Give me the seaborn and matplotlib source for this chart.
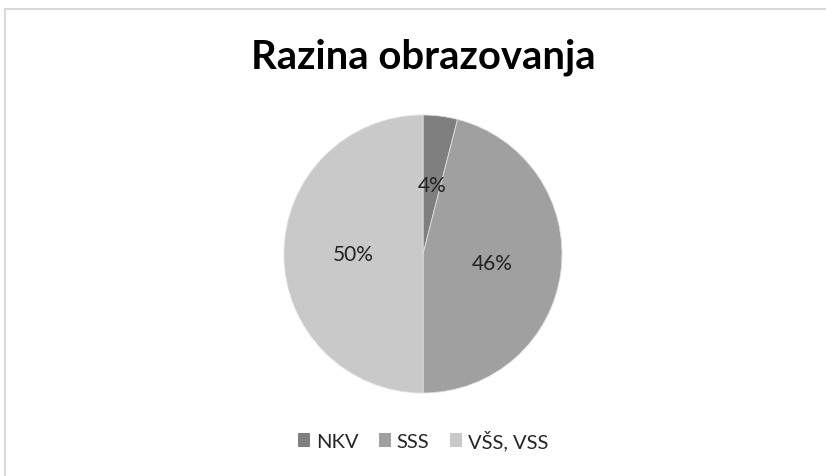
import matplotlib
matplotlib.use("Agg")
import matplotlib.pyplot as plt
import seaborn as sns
from matplotlib.patches import Patch
from matplotlib.lines import Line2D

categories = ["NKV", "SSS", "VŠS, VSS"]
values = [4, 46, 50]
colors = ["#7f7f7f", "#a0a0a0", "#c9c9c9"]
title = "Razina obrazovanja"

sns.set_theme(style="white")
plt.rcParams['font.family'] = ['Lato', 'DejaVu Sans']

W, H = 826, 477
fig = plt.figure(figsize=(W / 100, H / 100), dpi=100)
fig.patch.set_facecolor("white")

# frame lines (top and left) like the reference
fig.add_artist(Line2D([5 / W, 1], [1 - 9.5 / H, 1 - 9.5 / H], color="#d9d9d9", lw=1.5, transform=fig.transFigure))
fig.add_artist(Line2D([5 / W, 5 / W], [0, 1 - 9.5 / H], color="#d9d9d9", lw=1.5, transform=fig.transFigure))

cx, cy, r = 423, 255, 139
ax = fig.add_axes([(cx - r) / W, (H - cy - r) / H, 2 * r / W, 2 * r / H])
wedges, texts, autotexts = ax.pie(
    values, colors=colors, startangle=90, counterclock=False,
    autopct=lambda p: f"{p:.0f}%", pctdistance=0.5, radius=1,
    wedgeprops=dict(edgecolor="#e0e0e0", linewidth=0.6),
    textprops=dict(fontsize=15, color="#222222"),
)
ax.set_xlim(-1, 1)
ax.set_ylim(-1, 1)
ax.set_aspect("equal")
ax.axis("off")

fig.text(cx / W, 1 - 57 / H, title, ha="center", va="center", fontsize=28.8, fontweight="bold", color="black")

handles = [Patch(facecolor=c, edgecolor="none") for c in colors]
fig.legend(handles, categories, loc="center", bbox_to_anchor=(cx / W, 1 - 441 / H),
           ncol=3, frameon=False, fontsize=14.5, handlelength=0.6, handleheight=0.7,
           handletextpad=0.3, columnspacing=1.0)

fig.savefig("out.png", dpi=100, facecolor="white")
